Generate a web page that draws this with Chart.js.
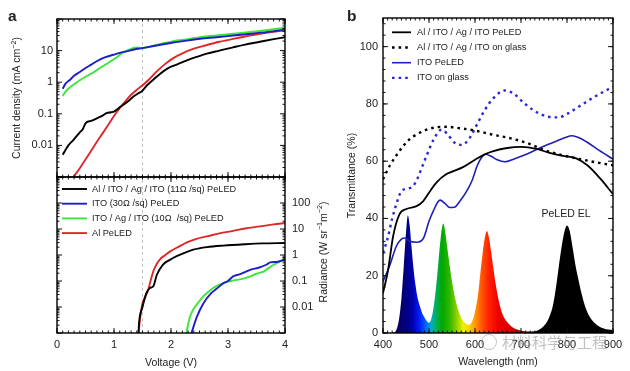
<!DOCTYPE html>
<html>
<head>
<meta charset="utf-8">
<script src="https://cdn.jsdelivr.net/npm/chart.js@4.4.1/dist/chart.umd.min.js"></script>
<style>
body { margin: 0; background: #fff; }
#wrap { position: relative; width: 630px; height: 371px; overflow: hidden; background: #fff; }
canvas { position: absolute; }
#mark { position: absolute; left: 502px; top: 332px; font-size: 15px; font-family: "Noto Sans CJK SC", sans-serif; color: rgba(140,140,140,0.55); line-height: 20px; }
#mark_icon { position: absolute; left: 481px; top: 334px; width: 14px; height: 14px; border: 1.5px solid rgba(150,150,150,0.55); border-radius: 50%; }
</style>
</head>
<body>
<div id="wrap">
  <canvas id="ivChart" width="320" height="180" style="left:0;top:0"></canvas>
  <canvas id="radChart" width="345" height="197" style="left:0;top:174px"></canvas>
  <canvas id="specChart" width="300" height="371" style="left:330px;top:0"></canvas>
  <div id="mark_icon"></div>
  <div id="mark">材料科学与工程</div>
</div>
<script>
// ---- panel a (top): current density vs voltage
const jv_black = [0.1, 0.2, 0.29, 0.4, 0.45, 0.5, 0.6, 0.7, 0.8, 0.87, 0.95, 1.0, 1.1, 1.16, 1.28, 1.34, 1.42, 1.49, 1.58, 1.69, 1.8, 1.95, 2.1, 2.28, 2.45, 2.63, 2.85, 3.09, 3.3, 3.56, 3.8, 4.0];
const j_black = [0.0051, 0.01, 0.015, 0.026, 0.032, 0.05, 0.06, 0.072, 0.088, 0.105, 0.112, 0.118, 0.16, 0.19, 0.28, 0.35, 0.44, 0.52, 0.8, 1.2, 1.8, 2.8, 3.6, 4.9, 6.3, 8, 10, 12.7, 15.5, 19, 23, 26.6];
const jv_blue = [0.1, 0.15, 0.23, 0.3, 0.4, 0.5, 0.6, 0.75, 0.85, 0.99, 1.1, 1.22, 1.35, 1.49, 1.7, 2.04, 2.3, 2.51, 2.8, 3.09, 3.4, 3.7, 4.0];
const j_blue = [0.62, 0.9, 1.2, 1.6, 2.1, 2.8, 3.6, 5.2, 6.2, 7.4, 8.5, 9.5, 10.8, 12, 14, 18, 21, 23.6, 26.5, 30, 34, 39, 46];
const jv_green = [0.1, 0.15, 0.2, 0.29, 0.4, 0.53, 0.65, 0.75, 0.87, 0.99, 1.08, 1.16, 1.28, 1.4, 1.49, 1.6, 1.8, 2.04, 2.3, 2.51, 2.8, 3.09, 3.4, 3.7, 4.0];
const j_green = [0.37, 0.5, 0.62, 0.83, 1.15, 1.6, 2.1, 2.8, 3.8, 5.2, 6.8, 8.8, 11, 12.5, 11.8, 13, 16, 20, 23, 26.6, 30, 34, 39, 45, 53];
const jv_red = [0.29, 0.4, 0.5, 0.6, 0.7, 0.8, 0.9, 1.0, 1.1, 1.2, 1.3, 1.4, 1.49, 1.6, 1.75, 1.9, 2.04, 2.2, 2.4, 2.6, 2.85, 3.09, 3.3, 3.56, 3.8, 4.0];
const j_red = [0.001, 0.0019, 0.0036, 0.0068, 0.013, 0.024, 0.045, 0.085, 0.15, 0.25, 0.4, 0.58, 0.77, 1.15, 2.2, 3.8, 5.8, 8.2, 11.5, 14.5, 19, 23.6, 28, 34, 39, 44];

// ---- panel a (bottom): radiance vs voltage
const rv_black = [1.43, 1.44, 1.5, 1.57, 1.63, 1.69, 1.75, 1.86, 1.98, 2.1, 2.27, 2.39, 2.63, 2.92, 3.3, 3.6, 4.0];
const r_black = [0.001, 0.0025, 0.01, 0.035, 0.054, 0.063, 0.17, 0.43, 0.65, 0.9, 1.3, 1.6, 2.0, 2.3, 2.6, 2.8, 2.9];
const rv_blue = [2.36, 2.45, 2.57, 2.71, 2.8, 2.92, 3.0, 3.09, 3.2, 3.39, 3.55, 3.68, 3.74, 3.85, 4.0];
const r_blue = [0.001, 0.004, 0.014, 0.035, 0.05, 0.083, 0.1, 0.15, 0.18, 0.27, 0.33, 0.43, 0.52, 0.54, 0.65];
const rv_green = [2.27, 2.33, 2.39, 2.48, 2.57, 2.74, 2.85, 2.92, 3.05, 3.15, 3.25, 3.39, 3.5, 3.62, 3.72, 3.8, 3.9, 4.0];
const r_green = [0.001, 0.004, 0.008, 0.015, 0.026, 0.054, 0.072, 0.083, 0.1, 0.11, 0.12, 0.15, 0.19, 0.23, 0.32, 0.42, 0.55, 0.76];
const rv_red = [1.43, 1.46, 1.5, 1.55, 1.6, 1.65, 1.7, 1.75, 1.81, 1.9, 1.98, 2.1, 2.3, 2.45, 2.63, 2.85, 3.09, 3.3, 3.56, 3.8, 4.0];
const r_red = [0.001, 0.004, 0.014, 0.025, 0.045, 0.12, 0.27, 0.45, 0.7, 1.0, 1.35, 1.9, 3.2, 4.2, 5.2, 6.8, 8.5, 10.5, 12.6, 15, 17];

const a_names = ['Al / ITO / Ag / ITO (11Ω /sq) PeLED', 'ITO (30Ω /sq) PeLED', 'ITO / Ag / ITO (10Ω  /sq) PeLED', 'Al PeLED'];
const j_labels = [10, 1, 0.1, 0.01];
const rad_labels = [100, 10, 1, 0.1, 0.01];
const volt_labels = [0, 1, 2, 3, 4];

// ---- panel b: transmittance and EL spectra
const wl_ag_dev = [400, 411, 422, 436, 451, 473, 487, 500, 516, 538, 553, 575, 600, 620, 640, 670, 700, 734, 760, 785, 820, 845, 873, 900];
const t_ag_dev = [13.9, 22, 33.8, 41.5, 43.3, 44.3, 46, 49, 52.5, 55.5, 56.5, 58, 60.5, 62.3, 63.5, 64.6, 65, 64.3, 63, 62, 61, 58.5, 53.8, 48.5];
const wl_ag_glass = [400, 415, 429, 445, 458, 475, 495, 515, 538, 567, 590, 611, 640, 669, 698, 727, 742, 785, 829, 873, 900];
const t_ag_glass = [53.7, 58.5, 62, 65.5, 67.7, 69.5, 71, 71.8, 72, 71.5, 71, 70.3, 69.2, 68.3, 67.1, 65.5, 64.4, 62.3, 60.7, 59.3, 58.6];
const wl_ito_dev = [400, 414, 429, 440, 447, 458, 473, 487, 500, 509, 524, 535, 545, 555, 567, 580, 593, 605, 615, 623, 635, 647, 665, 685, 713, 740, 771, 795, 811, 825, 844, 870, 900];
const t_ito_dev = [18, 23.3, 30.3, 32.8, 33.2, 32, 31.7, 32.8, 39, 42.5, 46.4, 45.2, 43.8, 43.9, 46, 49, 53, 58.5, 61.5, 62.4, 61.7, 60.6, 59.8, 60.8, 62.5, 64.5, 66.6, 68.2, 68.9, 68.3, 66.6, 63.8, 60.7];
const wl_ito_glass = [400, 410, 420, 430, 440, 455, 465, 475, 485, 495, 510, 527, 540, 555, 572, 590, 605, 620, 640, 665, 685, 705, 730, 760, 782, 800, 830, 860, 900];
const t_ito_glass = [28, 33, 40, 45.5, 49.5, 50.5, 51.2, 54, 58, 62, 67.5, 71, 69.5, 66.5, 65.7, 68.5, 73, 77.5, 82, 84.7, 83.5, 80.5, 77.5, 75.5, 75.3, 76.5, 79.5, 82.5, 86];

const el_wl = [400, 415, 425, 430, 435, 440, 445, 450, 454, 458, 462, 466, 470, 475, 480, 485, 490, 495, 500, 505, 510, 515, 520, 525, 531, 536, 540, 545, 550, 555, 560, 565, 570, 575, 580, 587, 592, 597, 602, 607, 612, 617, 622, 626, 630, 635, 640, 645, 650, 655, 660, 670, 680, 690, 700, 715, 730, 740, 750, 760, 770, 777, 785, 792, 800, 806, 812, 818, 825, 832, 840, 850, 860, 870, 880, 890, 900];
const el_val = [0, 0, 0.3, 1.5, 5, 12, 23, 35, 41, 37.5, 30, 23, 17.5, 12.5, 9.5, 7, 5.5, 4.2, 3.6, 5, 9, 15.5, 24, 32.5, 38.2, 34.5, 29.5, 23.5, 18, 13.5, 10, 7.3, 5.3, 4, 3.2, 2.8, 3.5, 5.5, 9, 14, 21.5, 28.5, 33.8, 35.6, 33.5, 28.5, 22.5, 17, 12.5, 9, 6.5, 3.8, 2.2, 1.3, 0.8, 0.5, 0.6, 1.2, 2.5, 5, 10, 17, 26.5, 33.5, 37.5, 35.5, 30, 24, 18.5, 13.5, 9, 5.5, 3.5, 2.3, 1.6, 1.2, 1];

const b_names = ['Al / ITO / Ag / ITO PeLED', 'Al / ITO / Ag / ITO on glass', 'ITO PeLED', 'ITO on glass'];
const t_labels = [0, 20, 40, 60, 80, 100];
const wl_labels = [400, 500, 600, 700, 800, 900];

Chart.defaults.font.family = '"Liberation Sans", Arial, sans-serif';
Chart.defaults.color = '#222';

const FAM = '"Liberation Sans", Arial, sans-serif';

function pairs(xs, ys) {
    return xs.map((x, i) => ({x: x, y: ys[i]}));
}

function log_minor(lo, hi) {
    const out = [];
    for (let k = -4; k <= 4; k++) {
        for (let m = 2; m <= 9; m++) {
            const v = m * Math.pow(10, k);
            if (v > lo && v < hi) out.push(v);
        }
    }
    return out;
}

function steps(lo, hi, step) {
    const out = [];
    for (let v = lo; v <= hi + 1e-9; v += step) out.push(Math.round(v * 1000) / 1000);
    return out;
}

// fixed axis box, and no extra padding from the tick labels
function fix_w(w) {
    return s => { s.width = w; s.paddingTop = 0; s.paddingBottom = 0; };
}
function fix_h(h) {
    return s => { s.height = h; s.paddingLeft = 0; s.paddingRight = 0; };
}

// text with superscripts, optionally rotated
function draw_rich(ctx, it) {
    ctx.save();
    ctx.translate(it.x, it.y);
    ctx.rotate(it.rot || 0);
    ctx.fillStyle = '#222';
    ctx.textBaseline = it.base || 'middle';
    ctx.textAlign = 'left';
    const weight = it.bold ? 'bold ' : '';
    const font_of = p => weight + (p.sup ? it.size * 0.68 : it.size) + 'px ' + FAM;
    let w = 0;
    it.parts.forEach(p => { ctx.font = font_of(p); w += ctx.measureText(p.t).width; });
    let cx = it.align === 'left' ? 0 : -w / 2;
    it.parts.forEach(p => {
        ctx.font = font_of(p);
        ctx.fillText(p.t, cx, p.sup ? -it.size * 0.36 : 0);
        cx += ctx.measureText(p.t).width;
    });
    ctx.restore();
}

function make_notes(items) {
    return {
        id: 'notes',
        afterDraw(chart) {
            items.forEach(it => draw_rich(chart.ctx, it));
        }
    };
}

// inward tick marks and the box
function make_frame(cfg) {
    return {
        id: 'frame',
        afterDatasetsDraw(chart) {
            const ctx = chart.ctx;
            const a = chart.chartArea;
            const xs = chart.scales.x;
            const ys = chart.scales.y;
            ctx.save();
            ctx.strokeStyle = '#111';
            ctx.lineWidth = 1;
            ctx.beginPath();
            function xt(vals, len) {
                vals.forEach(v => {
                    const p = xs.getPixelForValue(v);
                    ctx.moveTo(p, a.bottom); ctx.lineTo(p, a.bottom - len);
                    ctx.moveTo(p, a.top); ctx.lineTo(p, a.top + len);
                });
            }
            function yt(vals, len) {
                vals.forEach(v => {
                    const p = ys.getPixelForValue(v);
                    ctx.moveTo(a.left, p); ctx.lineTo(a.left + len, p);
                    ctx.moveTo(a.right, p); ctx.lineTo(a.right - len, p);
                });
            }
            xt(cfg.x_major, 5);
            xt(cfg.x_minor, 2.5);
            yt(cfg.y_major, 5);
            yt(cfg.y_minor, 2.5);
            ctx.stroke();
            ctx.lineWidth = 1.4;
            ctx.strokeStyle = '#000';
            ctx.strokeRect(a.left, a.top, a.right - a.left, a.bottom - a.top);
            ctx.restore();
        }
    };
}

function make_key(cfg) {
    return {
        id: 'key',
        afterDraw(chart) {
            const ctx = chart.ctx;
            ctx.save();
            ctx.font = cfg.size + 'px ' + FAM;
            ctx.textBaseline = 'middle';
            let row = 0;
            chart.data.datasets.forEach(ds => {
                if (!ds.label) return;
                const y = cfg.y + row * cfg.gap;
                ctx.strokeStyle = ds.borderColor;
                ctx.lineWidth = ds.borderWidth;
                ctx.setLineDash(ds.borderDash || []);
                ctx.beginPath();
                ctx.moveTo(cfg.x, y);
                ctx.lineTo(cfg.x + cfg.len, y);
                ctx.stroke();
                ctx.setLineDash([]);
                ctx.fillStyle = '#222';
                ctx.fillText(ds.label, cfg.x + cfg.len + cfg.pad, y);
                row++;
            });
            ctx.restore();
        }
    };
}

function line_set(label, data, color, width, dash) {
    return {
        label: label,
        data: data,
        borderColor: color,
        borderWidth: width,
        borderDash: dash || [],
        pointRadius: 0,
        cubicInterpolationMode: 'monotone',
        fill: false
    };
}

function guide_set(lo, hi) {
    return {
        data: [{x: 1.5, y: lo}, {x: 1.5, y: hi}],
        borderColor: 'rgba(170,170,170,0.9)',
        borderWidth: 0.8,
        borderDash: [3, 3],
        pointRadius: 0,
        fill: false
    };
}

const A_COL = ['#000000', '#1e1ec8', '#3ce63c', '#dc2828'];
const volt_minor = steps(0, 4, 0.1);
const hide_label = list => v => list.includes(v) ? String(v) : null;

// ---- panel a top
new Chart(document.getElementById('ivChart'), {
    type: 'line',
    data: {
        datasets: [
            line_set(a_names[0], pairs(jv_black, j_black), A_COL[0], 1.9),
            line_set(a_names[1], pairs(jv_blue, j_blue), A_COL[1], 1.9),
            line_set(a_names[2], pairs(jv_green, j_green), A_COL[2], 1.9),
            line_set(a_names[3], pairs(jv_red, j_red), A_COL[3], 1.9),
            guide_set(0.001, 100)
        ]
    },
    options: {
        responsive: false,
        animation: false,
        events: [],
        layout: {padding: {top: 19, right: 35, bottom: 3, left: 0}, autoPadding: false},
        plugins: {legend: {display: false}, tooltip: {enabled: false}},
        scales: {
            x: {type: 'linear', min: 0, max: 4, display: false},
            y: {
                type: 'logarithmic', position: 'left', min: 0.001, max: 100,
                afterFit: fix_w(57),
                afterBuildTicks: s => { s.ticks = [0.001, 0.01, 0.1, 1, 10, 100].map(v => ({value: v})); },
                ticks: {font: {size: 11}, padding: 4, callback: hide_label(j_labels)},
                grid: {display: false, drawTicks: false},
                border: {display: false}
            }
        }
    },
    plugins: [
        make_frame({x_major: volt_labels, x_minor: volt_minor, y_major: [0.001, 0.01, 0.1, 1, 10, 100], y_minor: log_minor(0.001, 100)}),
        make_notes([
            {x: 8, y: 21, parts: [{t: 'a'}], size: 15.5, bold: true, align: 'left', base: 'alphabetic'},
            {x: 17.5, y: 98, rot: -Math.PI / 2, size: 10.5, parts: [{t: 'Current density (mA cm'}, {t: '−2', sup: true}, {t: ')'}]}
        ])
    ]
});

// ---- panel a bottom
new Chart(document.getElementById('radChart'), {
    type: 'line',
    data: {
        datasets: [
            line_set(a_names[0], pairs(rv_black, r_black), A_COL[0], 1.9),
            line_set(a_names[1], pairs(rv_blue, r_blue), A_COL[1], 1.9),
            line_set(a_names[2], pairs(rv_green, r_green), A_COL[2], 1.9),
            line_set(a_names[3], pairs(rv_red, r_red), A_COL[3], 1.9),
            guide_set(0.001, 1000)
        ]
    },
    options: {
        responsive: false,
        animation: false,
        events: [],
        layout: {padding: {top: 3, right: 0, bottom: 0, left: 57}, autoPadding: false},
        plugins: {legend: {display: false}, tooltip: {enabled: false}},
        scales: {
            x: {
                type: 'linear', min: 0, max: 4,
                afterFit: fix_h(38),
                afterBuildTicks: s => { s.ticks = volt_labels.map(v => ({value: v})); },
                ticks: {font: {size: 11}, padding: 5},
                grid: {display: false, drawTicks: false},
                border: {display: false},
                title: {display: true, text: 'Voltage (V)', font: {size: 10.5}, padding: {top: 0, bottom: 2}}
            },
            y: {
                type: 'logarithmic', position: 'right', min: 0.001, max: 1000,
                afterFit: fix_w(60),
                afterBuildTicks: s => { s.ticks = [0.001, 0.01, 0.1, 1, 10, 100, 1000].map(v => ({value: v})); },
                ticks: {font: {size: 11}, padding: 7, callback: hide_label(rad_labels)},
                grid: {display: false, drawTicks: false},
                border: {display: false}
            }
        }
    },
    plugins: [
        make_frame({x_major: volt_labels, x_minor: volt_minor, y_major: [0.001, 0.01, 0.1, 1, 10, 100, 1000], y_minor: log_minor(0.001, 1000)}),
        make_key({x: 62, y: 15, gap: 14.7, len: 25, pad: 5, size: 9.2}),
        make_notes([
            {x: 324, y: 78, rot: -Math.PI / 2, size: 10.5, parts: [{t: 'Radiance (W sr'}, {t: '−1', sup: true}, {t: 'm'}, {t: '−2', sup: true}, {t: ')'}]}
        ])
    ]
});

// ---- panel b
const spec_stop_nm = [400, 430, 450, 465, 480, 495, 505, 515, 528, 545, 560, 575, 588, 600, 615, 630, 650, 690, 718, 735, 900];
const spec_stop_col = ['#1a0040', '#0a0060', '#000080', '#0000b0', '#0020ff', '#0070ff', '#00b0c0', '#00b060', '#00a800', '#30b800', '#90d000', '#f0f000', '#ffd000', '#ff9900', '#ff5500', '#ff2200', '#ee0000', '#cc0000', '#300000', '#000000', '#000000'];

function el_fill(context) {
    const chart = context.chart;
    if (!chart.chartArea) return 'rgba(0,0,0,0)';
    const xs = chart.scales.x;
    const g = chart.ctx.createLinearGradient(xs.getPixelForValue(400), 0, xs.getPixelForValue(900), 0);
    spec_stop_nm.forEach((nm, i) => g.addColorStop((nm - 400) / 500, spec_stop_col[i]));
    return g;
}

new Chart(document.getElementById('specChart'), {
    type: 'line',
    data: {
        datasets: [
            line_set(b_names[0], pairs(wl_ag_dev, t_ag_dev), '#000000', 1.8),
            line_set(b_names[1], pairs(wl_ag_glass, t_ag_glass), '#000000', 2.4, [2.6, 4]),
            line_set(b_names[2], pairs(wl_ito_dev, t_ito_dev), '#1f1fb8', 1.6),
            line_set(b_names[3], pairs(wl_ito_glass, t_ito_glass), '#2a2ad0', 2.4, [2.6, 4]),
            {
                data: pairs(el_wl, el_val),
                borderColor: 'rgba(0,0,0,0)',
                borderWidth: 0,
                pointRadius: 0,
                cubicInterpolationMode: 'monotone',
                fill: 'origin',
                backgroundColor: el_fill
            }
        ]
    },
    options: {
        responsive: false,
        animation: false,
        events: [],
        layout: {padding: {top: 18, right: 17, bottom: 0, left: 0}, autoPadding: false},
        plugins: {legend: {display: false}, tooltip: {enabled: false}},
        scales: {
            x: {
                type: 'linear', min: 400, max: 900,
                afterFit: fix_h(38),
                afterBuildTicks: s => { s.ticks = wl_labels.map(v => ({value: v})); },
                ticks: {font: {size: 11}, padding: 5},
                grid: {display: false, drawTicks: false},
                border: {display: false},
                title: {display: true, text: 'Wavelength (nm)', font: {size: 10.5}, padding: {top: 0, bottom: 3}}
            },
            y: {
                type: 'linear', position: 'left', min: 0, max: 110,
                afterFit: fix_w(53),
                afterBuildTicks: s => { s.ticks = t_labels.map(v => ({value: v})); },
                ticks: {font: {size: 11}, padding: 5},
                grid: {display: false, drawTicks: false},
                border: {display: false},
                title: {display: true, text: 'Transmittance (%)', font: {size: 10.5}, padding: {top: 15.5, bottom: 0}}
            }
        }
    },
    plugins: [
        make_frame({x_major: wl_labels, x_minor: steps(400, 900, 10), y_major: t_labels, y_minor: steps(0, 108, 4)}),
        make_key({x: 62, y: 32.3, gap: 15.2, len: 19, pad: 6, size: 9.2}),
        make_notes([
            {x: 17, y: 21, parts: [{t: 'b'}], size: 15.5, bold: true, align: 'left', base: 'alphabetic'},
            {x: 236, y: 214, size: 10.5, parts: [{t: 'PeLED EL'}]}
        ])
    ]
});
</script>
</body>
</html>
